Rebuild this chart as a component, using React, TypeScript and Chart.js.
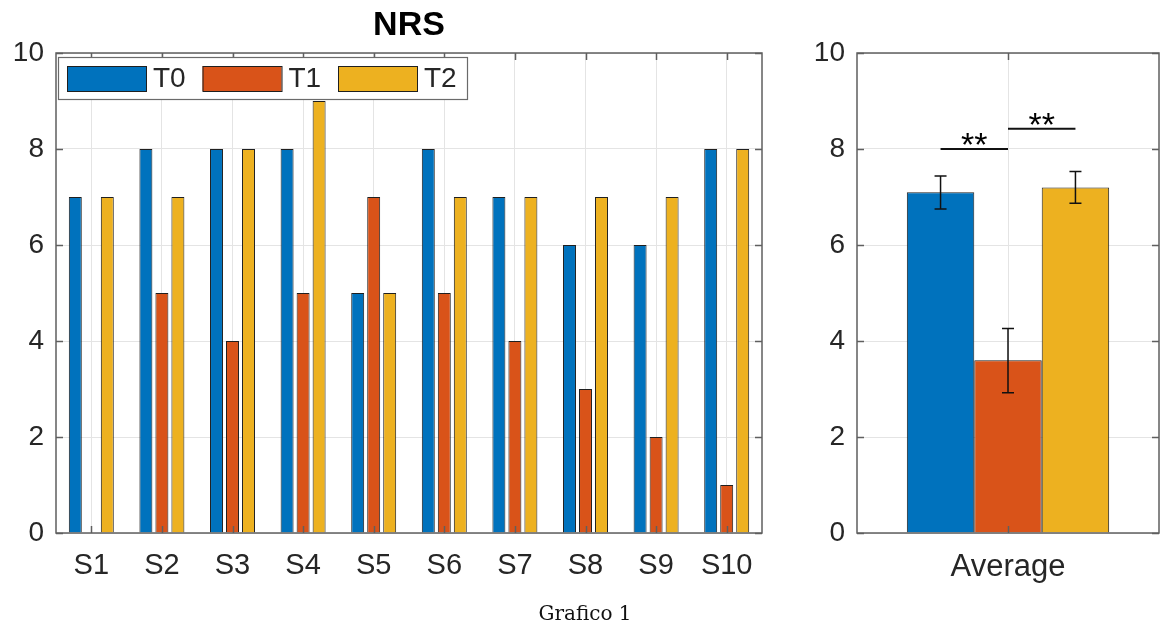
import React, { useEffect, useRef } from "react";
import { Chart, registerables } from "chart.js";

Chart.register(...registerables);

// ---------- data ----------
const subjects = ["S1", "S2", "S3", "S4", "S5", "S6", "S7", "S8", "S9", "S10"];
const seriesNames = ["T0", "T1", "T2"];
const seriesColors = ["#0072BD", "#D95319", "#EDB120"];
const t0Values = [7, 8, 8, 8, 5, 8, 7, 6, 6, 8];
const t1Values = [0, 5, 4, 5, 7, 5, 4, 3, 2, 1];
const t2Values = [7, 7, 8, 9, 5, 7, 7, 7, 7, 8];

const averageLabel = ["Average"];
const averageValues = [7.1, 3.6, 7.2];
const averageErrLow = [6.75, 2.92, 6.87];
const averageErrHigh = [7.44, 4.26, 7.53];

const sigPairs = [
  [0, 1],
  [1, 2],
];
const sigLevels = [8.0, 8.42];
const sigLabels = ["**", "**"];

const chartTitle = "NRS";
const caption = "Grafico 1";
const yMin = 0;
const yMax = 10;
const yStep = 2;

// ---------- styles ----------
const FONT = "'Liberation Sans', Arial, Helvetica, sans-serif";
const AXIS = "#5f5f5f";
const GRID = "#e4e4e4";
const TEXT = "#262626";
const EDGE = "#1f1f1f";

const boxPlugin = {
  id: "boxTicks",
  afterDatasetsDraw(chart: any) {
    const { ctx, chartArea: a, scales } = chart;
    const x = scales.x;
    const y = scales.y;
    ctx.save();
    ctx.strokeStyle = AXIS;
    ctx.lineWidth = 1.5;
    ctx.beginPath();
    x.ticks.forEach((_: any, i: number) => {
      const px = Math.round(x.getPixelForTick(i)) + 0.5;
      ctx.moveTo(px, a.bottom);
      ctx.lineTo(px, a.bottom - 7);
      ctx.moveTo(px, a.top);
      ctx.lineTo(px, a.top + 7);
    });
    y.ticks.forEach((t: any) => {
      const py = Math.round(y.getPixelForValue(t.value)) + 0.5;
      ctx.moveTo(a.left, py);
      ctx.lineTo(a.left + 7, py);
      ctx.moveTo(a.right, py);
      ctx.lineTo(a.right - 7, py);
    });
    ctx.stroke();
    ctx.strokeRect(a.left, a.top, a.right - a.left, a.bottom - a.top);
    ctx.restore();
  },
};

const legendTitlePlugin = {
  id: "legendTitle",
  afterDraw(chart: any) {
    const { ctx, chartArea: a } = chart;
    ctx.save();
    // title
    ctx.fillStyle = "#000";
    ctx.font = `bold 34px ${FONT}`;
    ctx.textAlign = "center";
    ctx.textBaseline = "middle";
    ctx.fillText(chartTitle, (a.left + a.right) / 2, 26);
    // legend box
    const bx = a.left + 2;
    const by = a.top + 4;
    const bw = 409;
    const bh = 42;
    ctx.fillStyle = "#fff";
    ctx.fillRect(bx, by, bw, bh);
    ctx.strokeStyle = "#6a6a6a";
    ctx.lineWidth = 1.2;
    ctx.strokeRect(bx + 0.5, by + 0.5, bw, bh);
    ctx.font = `28px ${FONT}`;
    ctx.textAlign = "left";
    ctx.textBaseline = "middle";
    seriesNames.forEach((name, i) => {
      const sx = bx + 9 + i * 135.5;
      const sy = by + 9;
      ctx.fillStyle = seriesColors[i];
      ctx.fillRect(sx, sy, 79, 25);
      ctx.strokeStyle = EDGE;
      ctx.lineWidth = 1;
      ctx.strokeRect(sx + 0.5, sy + 0.5, 79, 25);
      ctx.fillStyle = TEXT;
      ctx.fillText(name, sx + 86, sy + 13);
    });
    ctx.restore();
  },
};

const errorSigPlugin = {
  id: "errorSig",
  afterDatasetsDraw(chart: any) {
    const { ctx } = chart;
    const y = chart.scales.y;
    ctx.save();
    ctx.strokeStyle = "#111";
    ctx.lineWidth = 1.5;
    const xs: number[] = [];
    chart.data.datasets.forEach((_: any, di: number) => {
      const bar = chart.getDatasetMeta(di).data[0];
      const px = bar.x;
      xs.push(px);
      const hi = y.getPixelForValue(averageErrHigh[di]);
      const lo = y.getPixelForValue(averageErrLow[di]);
      ctx.beginPath();
      ctx.moveTo(px, hi);
      ctx.lineTo(px, lo);
      ctx.moveTo(px - 6, hi);
      ctx.lineTo(px + 6, hi);
      ctx.moveTo(px - 6, lo);
      ctx.lineTo(px + 6, lo);
      ctx.stroke();
    });
    ctx.lineWidth = 2;
    ctx.fillStyle = "#000";
    ctx.font = `34px ${FONT}`;
    ctx.textAlign = "center";
    ctx.textBaseline = "alphabetic";
    sigPairs.forEach((pair, i) => {
      const x1 = xs[pair[0]];
      const x2 = xs[pair[1]];
      const py = y.getPixelForValue(sigLevels[i]);
      ctx.beginPath();
      ctx.moveTo(x1, py);
      ctx.lineTo(x2, py);
      ctx.stroke();
      ctx.fillText(sigLabels[i], (x1 + x2) / 2, py + 7);
    });
    ctx.restore();
  },
};

function scalesFor(yWidth: number, xFontSize: number) {
  return {
    x: {
      type: "category" as const,
      offset: true,
      grid: { offset: false, color: GRID, lineWidth: 1, drawTicks: false },
      border: { display: false },
      ticks: { color: TEXT, font: { family: FONT, size: xFontSize }, padding: 16, maxRotation: 0 },
      afterFit(scale: any) {
        scale.height = 93;
      },
    },
    y: {
      min: yMin,
      max: yMax,
      grid: { color: GRID, lineWidth: 1, drawTicks: false },
      border: { display: false },
      ticks: { stepSize: yStep, color: TEXT, font: { family: FONT, size: 28 }, padding: 12 },
      afterFit(scale: any) {
        scale.width = yWidth;
      },
    },
  };
}

function LeftChart() {
  const ref = useRef<HTMLCanvasElement>(null);
  useEffect(() => {
    const values = [t0Values, t1Values, t2Values];
    const chart = new Chart(ref.current!, {
      type: "bar",
      data: {
        labels: subjects,
        datasets: seriesNames.map((name, i) => ({
          label: name,
          data: values[i],
          backgroundColor: seriesColors[i],
          borderColor: EDGE,
          borderWidth: 1,
          categoryPercentage: 0.68,
          barPercentage: 0.81,
        })),
      },
      options: {
        responsive: false,
        animation: false,
        layout: { padding: { top: 53, right: 28, bottom: 0, left: 0 } },
        plugins: { legend: { display: false }, tooltip: { enabled: false }, title: { display: false } },
        scales: scalesFor(56, 29) as any,
      },
      plugins: [boxPlugin, legendTitlePlugin],
    });
    return () => chart.destroy();
  }, []);
  return (
    <canvas
      ref={ref}
      width={790}
      height={626}
      style={{ position: "absolute", left: 0, top: 0, width: 790, height: 626 }}
    />
  );
}

function RightChart() {
  const ref = useRef<HTMLCanvasElement>(null);
  useEffect(() => {
    const chart = new Chart(ref.current!, {
      type: "bar",
      data: {
        labels: averageLabel,
        datasets: seriesNames.map((name, i) => ({
          label: name,
          data: [averageValues[i]],
          backgroundColor: seriesColors[i],
          borderColor: EDGE,
          borderWidth: 1,
          categoryPercentage: 0.67,
          barPercentage: 1,
        })),
      },
      options: {
        responsive: false,
        animation: false,
        layout: { padding: { top: 53, right: 1, bottom: 0, left: 0 } },
        plugins: { legend: { display: false }, tooltip: { enabled: false }, title: { display: false } },
        scales: scalesFor(67, 31) as any,
      },
      plugins: [boxPlugin, errorSigPlugin],
    });
    return () => chart.destroy();
  }, []);
  return (
    <canvas
      ref={ref}
      width={370}
      height={626}
      style={{ position: "absolute", left: 790, top: 0, width: 370, height: 626 }}
    />
  );
}

export default function App() {
  return (
    <div
      style={{
        position: "absolute",
        left: 0,
        top: 0,
        width: 1160,
        height: 626,
        background: "#fff",
        overflow: "hidden",
      }}
    >
      <LeftChart />
      <RightChart />
      <div
        style={{
          position: "absolute",
          left: 485,
          width: 200,
          top: 603,
          lineHeight: "20px",
          textAlign: "center",
          fontFamily: "'DejaVu Serif', serif",
          fontSize: 20,
          color: "#111",
        }}
      >
        {caption}
      </div>
    </div>
  );
}
